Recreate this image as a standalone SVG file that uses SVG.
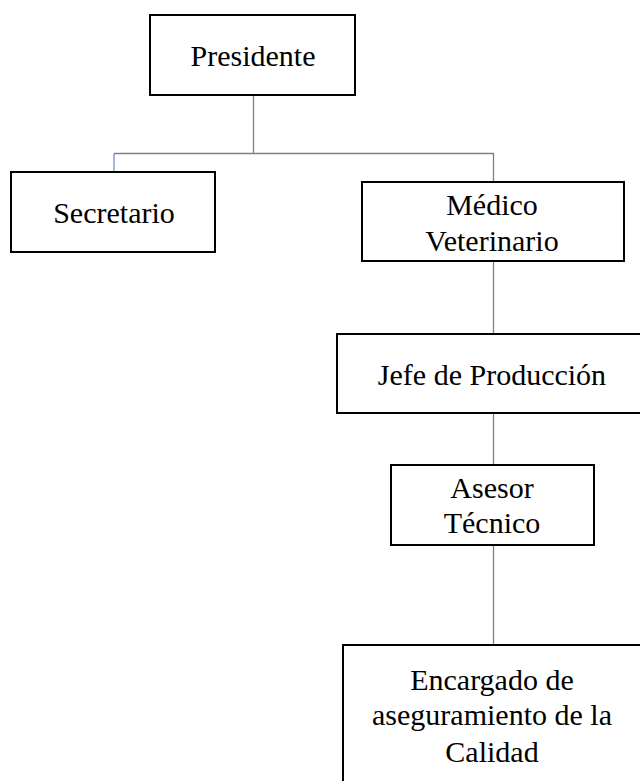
<svg xmlns="http://www.w3.org/2000/svg" width="640" height="781" viewBox="0 0 640 781">
<style>
.box{fill:#fff;stroke:#000;stroke-width:2}
.lbl{font-family:"Liberation Serif","Times New Roman",serif;font-size:30px;fill:#000;text-anchor:middle}
.con{stroke:#808080;stroke-width:1.3;fill:none}
.con2{stroke:#4472c4;stroke-width:1;fill:none}
</style>
<rect width="640" height="781" fill="#fff"/>
<g id="connectors">
<path class="con" d="M253.5 95 V153.5 H114 M253.5 153.5 H493.5 V182"/>
<path class="con2" d="M114 153.5 V172"/>
<path class="con" d="M493.5 261 V334"/>
<path class="con" d="M493.5 413 V465"/>
<path class="con" d="M493.5 545 V645"/>
</g>
<g id="presidente">
<rect class="box" x="150" y="15" width="205" height="80"/>
<text class="lbl" x="253" y="66">Presidente</text>
</g>
<g id="secretario">
<rect class="box" x="11" y="172" width="204" height="80"/>
<text class="lbl" x="114" y="223">Secretario</text>
</g>
<g id="medico">
<rect class="box" x="362" y="182" width="262" height="79"/>
<text class="lbl" x="492" y="215">Médico</text>
<text class="lbl" x="492" y="251">Veterinario</text>
</g>
<g id="jefe">
<rect class="box" x="337" y="334" width="315" height="79"/>
<text class="lbl" x="492" y="385">Jefe de Producción</text>
</g>
<g id="asesor">
<rect class="box" x="391" y="465" width="203" height="80"/>
<text class="lbl" x="492" y="498">Asesor</text>
<text class="lbl" x="492" y="533">Técnico</text>
</g>
<g id="encargado">
<rect class="box" x="343" y="645" width="310" height="150"/>
<text class="lbl" x="492" y="690">Encargado de</text>
<text class="lbl" x="492" y="725">aseguramiento de la</text>
<text class="lbl" x="492" y="762">Calidad</text>
</g>
</svg>
